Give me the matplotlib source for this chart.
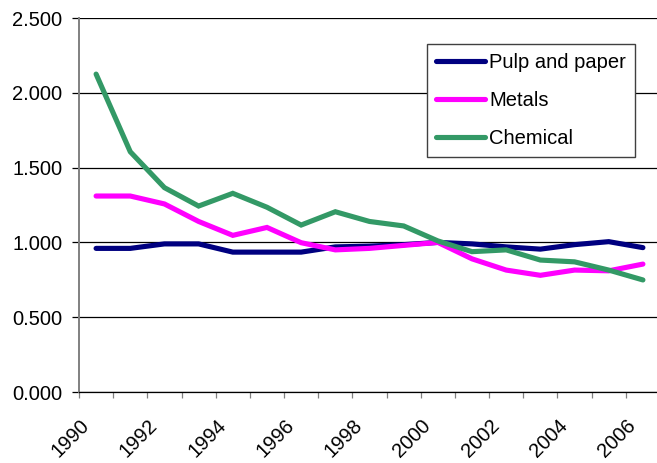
import matplotlib
matplotlib.use("Agg")
import matplotlib.pyplot as plt
import numpy as np

plt.rcParams['font.family'] = ['Liberation Sans', 'DejaVu Sans']

years = list(range(1990, 2007))
pulp_paper = [0.96, 0.96, 0.99, 0.99, 0.935, 0.935, 0.935, 0.97, 0.975, 0.985,
              1.00, 0.99, 0.97, 0.955, 0.985, 1.005, 0.965]
metals = [1.31, 1.31, 1.257, 1.14, 1.047, 1.10, 0.998, 0.95, 0.96, 0.98,
          1.00, 0.89, 0.815, 0.78, 0.815, 0.81, 0.855]
chemical = [2.125, 1.606, 1.366, 1.243, 1.328, 1.235, 1.116, 1.205, 1.14, 1.11,
            1.01, 0.938, 0.95, 0.882, 0.87, 0.815, 0.749]
y_ticks = [0.0, 0.5, 1.0, 1.5, 2.0, 2.5]

FS = 14.5
W, H = 657, 463
fig = plt.figure(figsize=(W / 100, H / 100), dpi=100)
left, right, top, bottom = 79, 660, 18, 392
ax = fig.add_axes([left / W, 1 - bottom / H, (right - left) / W, (bottom - top) / H])

x = np.arange(len(years))
series = [("Pulp and paper", pulp_paper, "#000080"),
          ("Metals", metals, "#FF00FF"),
          ("Chemical", chemical, "#339966")]
for name, vals, col in series:
    ax.plot(x, vals, color=col, lw=3.7, solid_capstyle='round',
            solid_joinstyle='miter', label=name, zorder=3)

ax.set_xlim(-0.5, len(years) - 0.5)
ax.set_ylim(0, 2.5)

# horizontal gridlines
ax.set_yticks(y_ticks)
ax.set_yticklabels([f"{v:.3f}" for v in y_ticks], fontsize=FS)
ax.yaxis.grid(True, color='black', lw=0.9)
ax.set_axisbelow(True)
ax.tick_params(axis='y', length=5, width=0.9, color='black', pad=7)

# category boundaries as x ticks, labels every other year
ax.set_xticks(np.arange(len(years) + 1) - 0.5)
ax.set_xticklabels([])
ax.tick_params(axis='x', length=4, width=0.9, color='#808080', direction='out')
for i, yr in enumerate(years):
    if yr % 2 == 0:
        ax.annotate(str(yr), xy=(i, 0), xycoords='data',
                    xytext=(-12, -17), textcoords='offset points',
                    rotation=45, ha='right', va='top',
                    rotation_mode='anchor', fontsize=FS, annotation_clip=False)

for s in ['top', 'right']:
    ax.spines[s].set_visible(False)
ax.spines['left'].set_color('#808080')
ax.spines['left'].set_linewidth(1.4)
ax.spines['bottom'].set_color('black')
ax.spines['bottom'].set_linewidth(0.9)

leg = ax.legend(loc='upper left', bbox_to_anchor=((427 - left) / (right - left), (bottom - 44) / (bottom - top)),
                fontsize=FS, frameon=True, fancybox=False, handlelength=2.45,
                handletextpad=0.2, borderpad=0.45, labelspacing=0.95, borderaxespad=0)
leg.get_frame().set_edgecolor('#404040')
leg.get_frame().set_linewidth(1.0)
leg.get_frame().set_alpha(1)

fig.savefig("out.png", dpi=100)
